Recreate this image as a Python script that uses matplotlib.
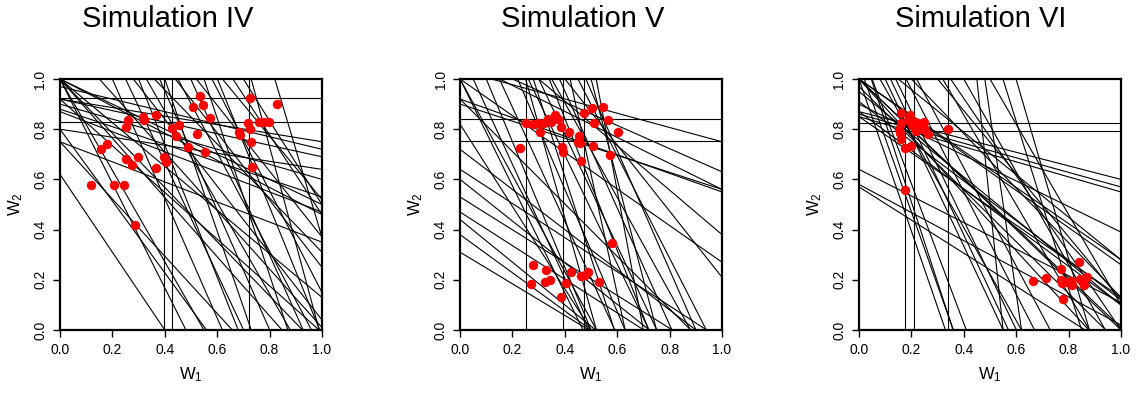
import numpy as np
import matplotlib
matplotlib.use("Agg")
import matplotlib.pyplot as plt

plt.rcParams.update({
    "font.family": ["Liberation Sans", "DejaVu Sans"],
    "mathtext.fontset": "custom",
    "mathtext.rm": "Liberation Sans",
    "mathtext.it": "Liberation Sans",
})

titles = ["Simulation IV", "Simulation V", "Simulation VI"]

# ---- Simulation IV ----
w1_iv = [0.117, 0.156, 0.180, 0.207, 0.244, 0.252, 0.258, 0.252, 0.273, 0.299,
         0.286, 0.315, 0.321, 0.366, 0.365, 0.396, 0.403, 0.428, 0.454, 0.441,
         0.490, 0.506, 0.535, 0.544, 0.523, 0.553, 0.574, 0.684, 0.686, 0.718,
         0.724, 0.724, 0.728, 0.733, 0.760, 0.778, 0.798, 0.828]
w2_iv = [0.576, 0.722, 0.741, 0.576, 0.576, 0.810, 0.837, 0.680, 0.657, 0.691,
         0.417, 0.850, 0.837, 0.857, 0.647, 0.691, 0.668, 0.803, 0.817, 0.773,
         0.728, 0.890, 0.934, 0.896, 0.781, 0.708, 0.846, 0.790, 0.777, 0.823,
         0.801, 0.923, 0.750, 0.648, 0.830, 0.830, 0.830, 0.900]
icpt_iv = [0.62, 0.75, 0.80, 1.00, 1.00, 1.00, 1.00, 0.92, 0.75, 0.88,
           0.92, 0.90, 0.92, 0.87, 1.00, 1.00, 1.00, 0.97, 0.80, 1.476,
           1.556, 1.789, 1.60, 2.212, 1.882, 2.163, 2.719, 2.538, 3.81, 1.905,
           1.388, 1.683, 2.174, 2.048, 2.167, 3.87, 1.373, 1.589, 1.783, 1.175]
slope_iv = [-1.55, -1.14, -1.43, -2.08, -1.82, -1.18, -1.08, -0.93, -0.40, -0.35,
            -0.23, -0.30, -0.17, -0.40, -0.50, -0.54, -0.87, -0.25, -0.16, -2.38,
            -2.22, -2.63, -1.82, -3.03, -1.96, -2.33, -3.125, -2.56, -3.85, -2.38,
            -1.078, -1.3125, -2.024, -1.588, -1.667, -3.5, -1.333, -1.339, -1.263, -1.165]
vline_iv = [0.398, 0.426, 0.723]
hline_iv = [0.923, 0.830]

# ---- Simulation V ----
w1_v = [0.229, 0.252, 0.280, 0.299, 0.307, 0.320, 0.337, 0.346, 0.362, 0.375,
        0.387, 0.390, 0.394, 0.417, 0.454, 0.449, 0.457, 0.461, 0.474, 0.504,
        0.512, 0.508, 0.546, 0.565, 0.572, 0.601, 0.581, 0.280, 0.271, 0.327,
        0.323, 0.343, 0.385, 0.403, 0.422, 0.461, 0.476, 0.489, 0.530]
w2_v = [0.724, 0.823, 0.821, 0.826, 0.790, 0.823, 0.839, 0.830, 0.857, 0.839,
        0.810, 0.728, 0.710, 0.790, 0.773, 0.750, 0.744, 0.673, 0.863, 0.883,
        0.823, 0.734, 0.890, 0.837, 0.697, 0.790, 0.348, 0.259, 0.182, 0.239,
        0.193, 0.199, 0.133, 0.186, 0.232, 0.215, 0.219, 0.232, 0.193]
icpt_v = [0.31, 0.38, 0.44, 0.47, 0.60, 0.64, 0.72, 0.82, 1.00, 1.00,
          0.92, 0.53, 0.90, 0.92, 1.00, 1.034, 1.0925, 1.266, 1.527, 1.078,
          1.114, 1.25, 1.341, 1.537, 1.565, 1.667, 1.895, 1.884, 1.918, 2.143,
          3.89, 3.00, 3.00, 1.926, 1.903, 1.66]
slope_v = [-0.63, -0.76, -0.85, -0.67, -0.83, -0.68, -0.80, -1.64, -2.13, -1.92,
           -1.045, -0.654, -0.34, -0.37, -0.73, -0.284, -0.4625, -0.886, -1.317, -0.518,
           -2.27, -2.50, -2.27, -2.44, -2.17, -2.22, -2.63, -2.33, -2.04, -2.38,
           -5.56, -4.00, -4.76, -3.70, -3.23, -1.887]
vline_v = [0.253, 0.394, 0.474]
hline_v = [0.839, 0.753]

# ---- Simulation VI ----
w1_vi = [0.159, 0.159, 0.152, 0.155, 0.159, 0.174, 0.197, 0.174, 0.193, 0.187,
         0.202, 0.219, 0.227, 0.238, 0.250, 0.253, 0.263, 0.339, 0.215,
         0.666, 0.712, 0.771, 0.771, 0.774, 0.778, 0.794, 0.809, 0.813, 0.839,
         0.845, 0.857, 0.870]
w2_vi = [0.863, 0.823, 0.801, 0.784, 0.760, 0.724, 0.733, 0.558, 0.857, 0.837,
         0.817, 0.793, 0.826, 0.803, 0.830, 0.797, 0.780, 0.801, 0.830,
         0.197, 0.206, 0.242, 0.199, 0.189, 0.122, 0.193, 0.195, 0.179, 0.270,
         0.202, 0.179, 0.210]
icpt_vi = [1.059, 1.139, 1.222, 1.267, 1.304, 1.148, 1.367, 1.431, 1.00, 1.15,
           5.50, 4.43, 2.83, 1.571, 1.74, 1.538, 3.14, 1.00, 1.00, 0.97,
           0.57, 0.58, 0.64, 0.85, 0.87, 0.91, 0.87, 0.86, 0.85, 0.90,
           1.00, 1.00, 0.95, 1.00, 1.2175, 1.377, 1.127, 1.90]
slope_vi = [-2.94, -2.78, -2.22, -2.22, -2.17, -1.85, -2.04, -1.96, -3.03, -3.20,
            -10.0, -7.14, -3.33, -1.786, -1.85, -1.538, -3.57, -1.00, -1.14, -1.03,
            -0.66, -0.56, -0.53, -0.72, -0.77, -0.79, -0.27, -0.29, -0.30, -0.51,
            -0.72, -0.74, -0.85, -0.99, -1.0875, -1.257, -0.847, -1.80]
vline_vi = [0.174, 0.210, 0.339]
hline_vi = [0.826, 0.793]

panels = [
    (w1_iv, w2_iv, icpt_iv, slope_iv, vline_iv, hline_iv),
    (w1_v, w2_v, icpt_v, slope_v, vline_v, hline_v),
    (w1_vi, w2_vi, icpt_vi, slope_vi, vline_vi, hline_vi),
]

fig = plt.figure(figsize=(11.47, 4.0), dpi=100)
lefts = [0.0523, 0.4011, 0.7489]
title_x = [0.146, 0.508, 0.855]

for i, (x, y, a, b, vl, hl) in enumerate(panels):
    ax = fig.add_axes([lefts[i], 0.175, 0.2284, 0.6275])
    for c, m in zip(a, b):
        ax.axline((0, c), slope=m, color="black", lw=0.8, zorder=1)
    for v in vl:
        ax.axvline(v, color="black", lw=0.8, zorder=1)
    for h in hl:
        ax.axhline(h, color="black", lw=0.8, zorder=1)
    ax.scatter(x, y, s=46, color="red", zorder=3, linewidths=0)
    ax.set_xlim(0, 1)
    ax.set_ylim(0, 1)
    ticks = np.arange(0, 1.01, 0.2)
    ax.set_xticks(ticks)
    ax.set_yticks(ticks)
    ax.set_xticklabels([f"{t:.1f}" for t in ticks], fontsize=10)
    ax.set_yticklabels([f"{t:.1f}" for t in ticks], fontsize=10,
                       rotation=90, va="center")
    ax.tick_params(direction="out", length=5, width=1.0, pad=4)
    for sp in ax.spines.values():
        sp.set_linewidth(1.6)
    ax.set_xlabel("W$_1$", fontsize=12, labelpad=6)
    ax.set_ylabel("W$_2$", fontsize=12, labelpad=6)
    fig.text(title_x[i], 0.952, titles[i], ha="center", va="center",
             fontsize=21)

fig.savefig("out.png", dpi=100, facecolor="white")
